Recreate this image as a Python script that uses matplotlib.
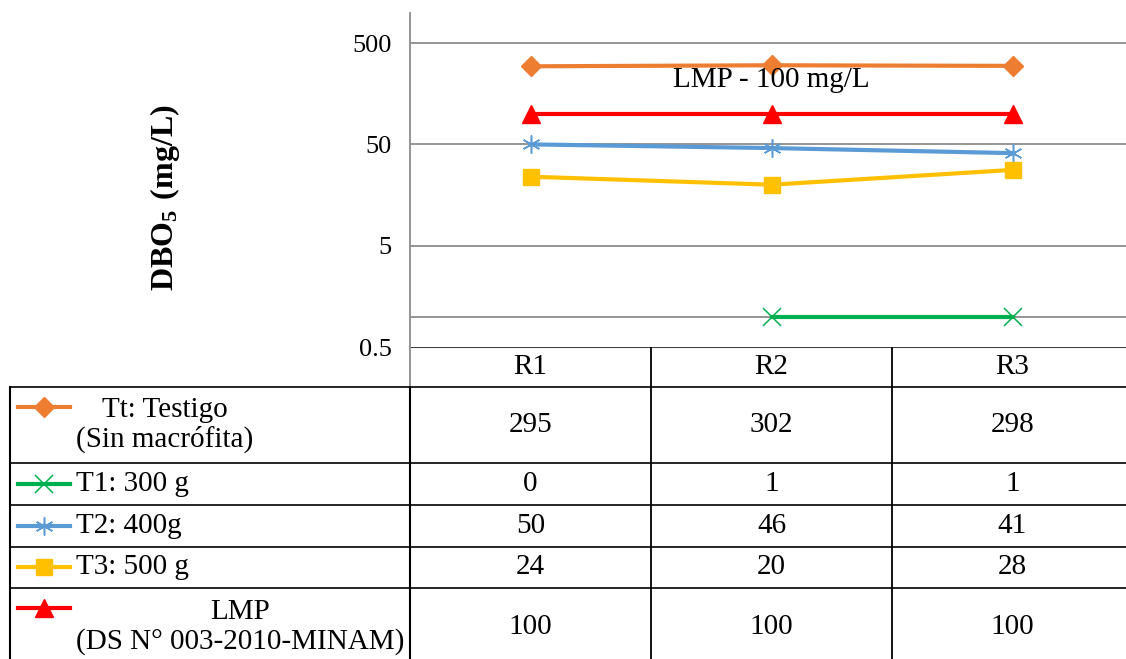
import numpy as np
import matplotlib
matplotlib.use("Agg")
import matplotlib.pyplot as plt
import matplotlib.transforms as mtransforms

plt.rcParams['font.family'] = ['Liberation Serif', 'DejaVu Serif']
plt.rcParams['mathtext.fontset'] = 'custom'
plt.rcParams['mathtext.rm'] = 'Liberation Serif'
plt.rcParams['mathtext.bf'] = 'Liberation Serif:bold'

# data
cats = ['R1', 'R2', 'R3']
tt = [295, 302, 298]
t1 = [0, 1, 1]
t2 = [50, 46, 41]
t3 = [24, 20, 28]
lmp = [100, 100, 100]

series = [
    ('Tt: Testigo\n(Sin macrófita)', tt, '#ED7D31', 'D'),
    ('T1: 300 g', t1, '#00B050', 'x'),
    ('T2: 400g', t2, '#5B9BD5', (6, 2, 0)),
    ('T3: 500 g', t3, '#FFC000', 's'),
    ('LMP\n(DS N° 003-2010-MINAM)', lmp, '#FF0000', '^'),
]
msizes = [10, 13, 13, 11, 13]
FS = 21

W, H = 1126, 659
fig = plt.figure(figsize=(W / 100, H / 100), dpi=100)

# plot area (pixel layout)
x0, x1, yb, yt = 410, 1133, 347, 12.6
ax = fig.add_axes([x0 / W, (H - yb) / H, (x1 - x0) / W, (yb - yt) / H])
ax.set_yscale('log')
ax.set_ylim(0.5, 1000)
ax.set_xlim(-0.5, 2.5)
ax.set_yticks([0.5, 5, 50, 500])
ax.set_yticklabels(['0.5', '5', '50', '500'])
ax.yaxis.set_minor_locator(matplotlib.ticker.NullLocator())
ax.set_xticks([])
ax.tick_params(axis='y', length=0, pad=13, labelsize=19)
for y in [5, 50, 500, 1]:
    ax.axhline(y, color='#8c8c8c', lw=1.3, zorder=1)
for s in ['top', 'right', 'bottom']:
    ax.spines[s].set_visible(False)
ax.spines['left'].set_color('#8c8c8c')
ax.spines['left'].set_linewidth(1.3)

xs = np.arange(len(cats))
for (name, vals, col, mk), ms in zip(series, msizes):
    v = np.array(vals, dtype=float)
    v = np.where(v > 0, v, np.nan)
    mew = 1.1 if mk in ('x', (6, 2, 0)) else 1
    ax.plot(xs, v, color=col, lw=3, marker=mk, ms=ms, mew=mew,
            mec=col, mfc=col, zorder=3, clip_on=False)

ax.text(1, 215, 'LMP - 100 mg/L', ha='center', va='center', fontsize=FS, zorder=4)

fig.text(165 / W, 1 - 198 / H, r'$\mathbf{DBO_5\ (mg/L)}$', rotation=90,
         ha='center', va='center', fontsize=23)

# data table below the plot
tab = fig.add_axes([0, 0, 1, 1], zorder=-1)
tab.set_xlim(0, W)
tab.set_ylim(H, 0)
tab.axis('off')
bt = mtransforms.blended_transform_factory(ax.transData, tab.transData)

rows = [347, 387, 463, 505, 547, 588, 666]
key_y = [407, 484, 526, 567, 608]
lc = 'black'
tab.plot([x0, x1], [rows[0], rows[0]], color='#404040', lw=1.5)
for r in rows[1:-1]:
    tab.plot([10, x1], [r, r], color=lc, lw=1.2)
tab.plot([10, 10], [rows[1], rows[-1]], color=lc, lw=1.5)
tab.plot([x0, x0], [rows[0], rows[1]], color='#8c8c8c', lw=1.3)
tab.plot([x0, x0], [rows[1], rows[-1]], color=lc, lw=1.5)
for b in [0.5, 1.5, 2.5]:
    tab.plot([b, b], [rows[0], rows[-1]], color=lc, lw=1.3, transform=bt)

for i, c in enumerate(cats):
    tab.text(i, (rows[0] + rows[1]) / 2, c, transform=bt, ha='center',
             va='center', fontsize=FS)

for k, ((name, vals, col, mk), ms) in enumerate(zip(series, msizes)):
    ctr = (rows[k + 1] + rows[k + 2]) / 2
    ky = key_y[k]
    tab.plot([18, 70], [ky, ky], color=col, lw=3)
    mew = 1.1 if mk in ('x', (6, 2, 0)) else 1
    tab.plot([44], [ky], marker=mk, ms=ms, color=col, mew=mew)
    if '\n' in name:
        tab.text(76, ctr, name, ha='left', va='center', multialignment='center',
                 fontsize=FS, linespacing=1.15)
    else:
        tab.text(76, ctr, name, ha='left', va='center', fontsize=FS)
    for i, v in enumerate(vals):
        tab.text(i, ctr, str(v), transform=bt, ha='center', va='center',
                 fontsize=FS)

fig.savefig('out.png', dpi=100)
